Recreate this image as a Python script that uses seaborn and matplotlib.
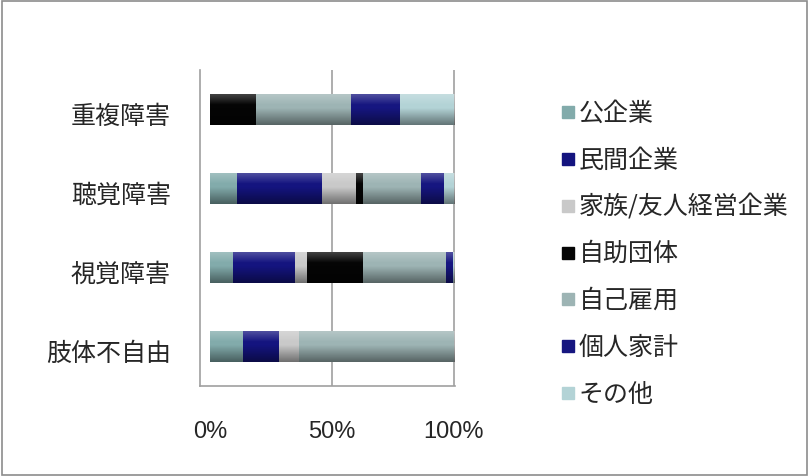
import matplotlib
matplotlib.use("Agg")
import matplotlib.pyplot as plt
import matplotlib.transforms as mtransforms
from matplotlib.lines import Line2D
from matplotlib.patches import Rectangle
import seaborn as sns
import pandas as pd
import numpy as np

categories = ["重複障害", "聴覚障害", "視覚障害", "肢体不自由"]
series = ["公企業", "民間企業", "家族/友人経営企業", "自助団体", "自己雇用", "個人家計", "その他"]
public_ent = [0, 11, 9.5, 13.5]
private_ent = [0, 35, 25.5, 15]
family_ent = [0, 14, 5, 8]
selfhelp = [19, 3, 23, 0]
self_emp = [39, 23.5, 34, 63.5]
household = [20, 9.5, 2.5, 0]
other = [22, 4, 0.5, 0]
colors = ["#82abab", "#14147f", "#c9c9c9", "#050505", "#9db4b4", "#161680", "#b3d3d6"]
xticks = [0, 50, 100]
xticklabels = ["0%", "50%", "100%"]

values = [public_ent, private_ent, family_ent, selfhelp, self_emp, household, other]

sns.set_style("white")
plt.rcParams["font.family"] = ["Noto Sans CJK JP", "DejaVu Sans"]

fig = plt.figure(figsize=(8.09, 4.76), dpi=100)
ax = fig.add_axes([200 / 809, 1 - 386 / 476, 255 / 809, 316 / 476])

rows = []
cum = np.zeros(len(categories))
for s, v in zip(series, values):
    cum = cum + np.array(v)
    for c, val in zip(categories, cum):
        rows.append({"category": c, "series": s, "cum": val})
df = pd.DataFrame(rows)

for s, col in reversed(list(zip(series, colors))):
    sub = df[df["series"] == s]
    sns.barplot(data=sub, x="cum", y="category", order=categories, color=col,
                orient="h", width=0.38, ax=ax, saturation=1, linewidth=0)

# cylinder-like shading overlay on each full bar
grad = np.zeros((64, 2, 4))
t = np.linspace(0, 1, 64)
shade = np.where(t < 0.35, 0.25 * (0.35 - t) / 0.35, 0.0)
dark = np.where(t > 0.45, 0.45 * (t - 0.45) / 0.55, 0.0)
grad[:, :, :3] = np.where(shade[:, None, None] > 0, 1.0, 0.0)
grad[:, :, 3] = (shade + dark)[:, None]
bar_h = 0.38
for i, total in enumerate(cum):
    ax.imshow(grad, extent=(0, total, i + bar_h / 2, i - bar_h / 2), aspect="auto",
              interpolation="bilinear", zorder=3)

ax.set_xlim(-4, 100.5)
ax.set_ylim(3.5, -0.5)
ax.set_xticks(xticks)
ax.set_xticklabels(xticklabels, family=["Liberation Sans", "DejaVu Sans"], fontsize=17)
ax.tick_params(axis="x", length=0, pad=25)
ax.tick_params(axis="y", length=0, pad=21, labelsize=18)
ax.set_xlabel("")
ax.set_ylabel("")

# shift y labels down slightly
off = mtransforms.ScaledTranslation(0, -0.04, fig.dpi_scale_trans)
for lab in ax.get_yticklabels():
    lab.set_transform(lab.get_transform() + off)

grid_col = "#a0a0a0"
for xv in [50, 100]:
    ax.axvline(xv, color=grid_col, linewidth=1.2, zorder=0)
for sp in ["top", "right"]:
    ax.spines[sp].set_visible(False)
for sp in ["left", "bottom"]:
    ax.spines[sp].set_color(grid_col)
    ax.spines[sp].set_linewidth(1.2)
ax.set_yticks([0.5, 1.5, 2.5], minor=True)
ax.tick_params(axis="y", which="minor", length=8, color=grid_col, width=1.2, direction="out")
ax.set_xticks(xticks, minor=True)
ax.tick_params(axis="x", which="minor", length=6, color=grid_col, width=1.2, direction="out")

handles = [Line2D([0], [0], marker="s", linestyle="none", markersize=8,
                  markerfacecolor=c, markeredgecolor=c) for c in colors]
leg = fig.legend(handles, series, loc="upper left", bbox_to_anchor=(550 / 809, 1 - 91 / 476),
                 frameon=False, fontsize=18, handlelength=0.6, handletextpad=0.15,
                 labelspacing=0.83, borderaxespad=0)

fig.patches.append(Rectangle((0.002, 0.003), 0.996, 0.994, transform=fig.transFigure,
                             fill=False, edgecolor="#8c8c8c", linewidth=1.2))

fig.savefig("out.png", dpi=100)
